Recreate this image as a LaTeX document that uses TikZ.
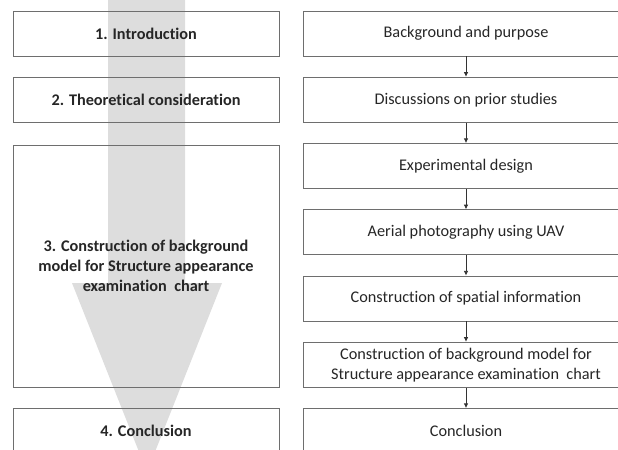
\documentclass[tikz,border=0pt]{standalone}
\usepackage{fontspec}
\setmainfont[Ligatures=CommonOff]{Carlito}
\usetikzlibrary{arrows.meta}

\begin{document}
\begin{tikzpicture}[x=0.75pt,y=-0.75pt,
  every node/.style={font=\fontsize{12.2}{15}\selectfont,text=black!85},
  chapter/.style={draw=boxline,line width=0.7pt,inner sep=0pt,minimum width=199.5pt,minimum height=33.75pt,font=\fontsize{12.2}{15}\selectfont\bfseries,align=center},
  flowbox/.style={draw=boxline,line width=0.7pt,inner sep=0pt,minimum width=244.5pt,minimum height=33.75pt,align=center},
  flow/.style={-{Latex[length=3.5pt,width=3.5pt]},line width=0.6pt,draw=black!80}]
% Define colours
\definecolor{boxline}{RGB}{110,110,110}
\definecolor{bigarrow}{RGB}{221,221,221}

% Page frame
\clip (0,0) rectangle (618,450);

% Draw the big background arrow
\fill[bigarrow] (108,-5) -- (185,-5) -- (185,283) -- (222,283) -- (147,472) -- (72,283) -- (108,283) -- cycle;

% Draw chapters (left column)
\node[chapter] (intro) at (146,33.5) {1. Introduction};
\node[chapter] (theory) at (146,99.75) {2. Theoretical consideration};
\node[chapter,minimum height=181.5pt] (model) at (146,266) {3. Construction of background\\model for Structure appearance\\examination~ chart};
\node[chapter] (concl) at (146,431) {4. Conclusion};

% Draw research flow (right column)
\node[flowbox] (purpose) at (466,33.5) {Background and purpose};
\node[flowbox] (prior) at (466,99.75) {Discussions on prior studies};
\node[flowbox] (design) at (466,166) {Experimental design};
\node[flowbox] (uav) at (466,232.25) {Aerial photography using UAV};
\node[flowbox] (spatial) at (466,298.5) {Construction of spatial information};
\node[flowbox] (bgmodel) at (466,364.75) {Construction of background model for\\Structure appearance examination~ chart};
\node[flowbox] (result) at (466,431) {Conclusion};

% Draw connections
\draw[flow] (purpose) -- (prior);
\draw[flow] (prior) -- (design);
\draw[flow] (design) -- (uav);
\draw[flow] (uav) -- (spatial);
\draw[flow] (spatial) -- (bgmodel);
\draw[flow] (bgmodel) -- (result);
\end{tikzpicture}
\end{document}
